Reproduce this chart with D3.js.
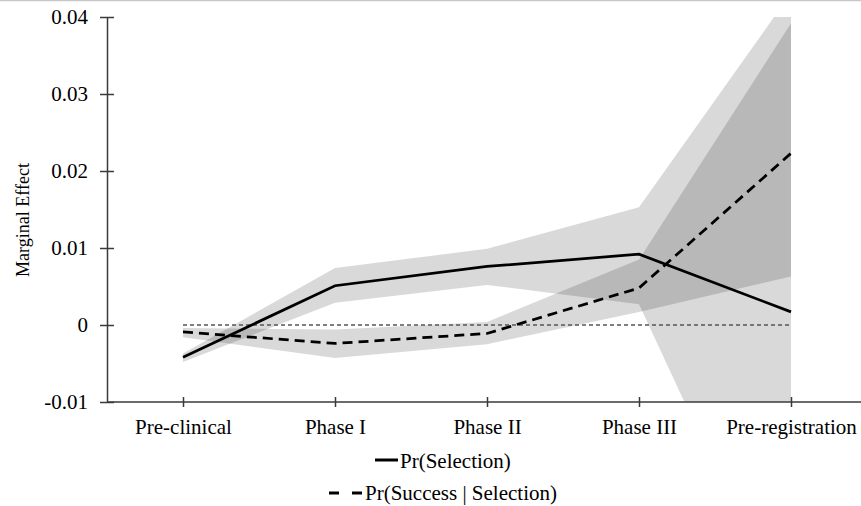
<!DOCTYPE html>
<html>
<head>
<meta charset="utf-8">
<script src="https://cdn.jsdelivr.net/npm/d3@7"></script>
<style>
	body { margin: 0; background: #fff; }
	svg { display: block; font-family: "Liberation Serif", "Times New Roman", serif; }
	.axis path, .axis line { stroke: #3a3a3a; stroke-width: 1.5; }
	.axis text { font-family: "Liberation Serif", "Times New Roman", serif; font-size: 21px; fill: #000; }
</style>
</head>
<body>
<div id="chart"></div>
<script>
// development stages on the x axis
var stages = ["Pre-clinical", "Phase I", "Phase II", "Phase III", "Pre-registration"];

// Pr(Selection) and its band
var selection = [-0.0042, 0.0051, 0.0076, 0.0092, 0.0017];
var selectionLow = [-0.0048, 0.0029, 0.0052, 0.0027, -0.0398];
var selectionHigh = [-0.0037, 0.0074, 0.0099, 0.0153, 0.0431];

// Pr(Success | Selection) and its band
var success = [-0.0009, -0.0024, -0.0011, 0.0048, 0.0223];
var successLow = [-0.0016, -0.0043, -0.0025, 0.0017, 0.0063];
var successHigh = [-0.0004, -0.0006, 0.0004, 0.0085, 0.0392];

var yTicks = [-0.01, 0, 0.01, 0.02, 0.03, 0.04];
var yTickLabels = ["-0.01", "0", "0.01", "0.02", "0.03", "0.04"];

var legendLabels = ["Pr(Selection)", "Pr(Success | Selection)"];

var width = 861;
var height = 506;
var plotLeft = 107, plotTop = 17, plotBottom = 402;

var svg = d3.select("#chart")
	.append("svg")
	.attr("width", width)
	.attr("height", height);

// thin rule at the very top of the picture
svg.append("line")
	.attr("x1", 0).attr("x2", width)
	.attr("y1", 0.5).attr("y2", 0.5)
	.attr("stroke", "#c8c8c8")
	.attr("stroke-width", 1.5);

var x = d3.scalePoint()
	.domain(stages)
	.range([plotLeft, plotLeft + 152 * 5])
	.padding(0.5);

var y = d3.scaleLinear()
	.domain([-0.01, 0.04])
	.range([plotBottom, plotTop]);

svg.append("clipPath")
	.attr("id", "plotClip")
	.append("rect")
	.attr("x", plotLeft)
	.attr("y", plotTop)
	.attr("width", width - plotLeft)
	.attr("height", plotBottom - plotTop);

var plot = svg.append("g").attr("clip-path", "url(#plotClip)");

function bandArea(low, high) {
	return d3.area()
		.x(function(d, i) { return x(stages[i]); })
		.y0(function(d, i) { return y(low[i]); })
		.y1(function(d, i) { return y(high[i]); });
}

// confidence bands, darker where they overlap
plot.append("path")
	.datum(stages)
	.attr("d", bandArea(selectionLow, selectionHigh))
	.attr("fill", "#000")
	.attr("fill-opacity", 0.15);

plot.append("path")
	.datum(stages)
	.attr("d", bandArea(successLow, successHigh))
	.attr("fill", "#000")
	.attr("fill-opacity", 0.15);

// zero reference line
plot.append("line")
	.attr("x1", x(stages[0]))
	.attr("x2", x(stages[stages.length - 1]))
	.attr("y1", y(0))
	.attr("y2", y(0))
	.attr("stroke", "#555")
	.attr("stroke-width", 1.3)
	.attr("stroke-dasharray", "4,3");

var line = d3.line()
	.x(function(d, i) { return x(stages[i]); })
	.y(function(d) { return y(d); });

plot.append("path")
	.datum(selection)
	.attr("d", line)
	.attr("fill", "none")
	.attr("stroke", "#000")
	.attr("stroke-width", 2.75);

plot.append("path")
	.datum(success)
	.attr("d", line)
	.attr("fill", "none")
	.attr("stroke", "#000")
	.attr("stroke-width", 2.75)
	.attr("stroke-dasharray", "10,6");

// y axis
var yAxis = svg.append("g")
	.attr("class", "axis")
	.attr("transform", "translate(" + plotLeft + ",0)")
	.call(d3.axisLeft(y)
		.tickValues(yTicks)
		.tickFormat(function(d, i) { return yTickLabels[i]; })
		.tickSizeOuter(0));

yAxis.selectAll(".tick line").attr("x1", -7).attr("x2", 7);
yAxis.selectAll(".tick text").attr("x", -19).attr("dy", "0.33em");

// x axis
var xAxis = svg.append("g")
	.attr("class", "axis")
	.attr("transform", "translate(0," + plotBottom + ")")
	.call(d3.axisBottom(x).tickSizeOuter(0));

xAxis.select(".domain").attr("d", "M" + plotLeft + ",0H" + width);
xAxis.selectAll(".tick line").attr("y1", -5).attr("y2", 5);
xAxis.selectAll(".tick text").attr("y", 32).attr("dy", 0);

// y axis title
svg.append("text")
	.attr("transform", "translate(29,220) rotate(-90)")
	.attr("text-anchor", "middle")
	.attr("font-size", "18px")
	.text("Marginal Effect");

// legend
var legend = svg.append("g");

legend.append("line")
	.attr("x1", 375).attr("x2", 398)
	.attr("y1", 460).attr("y2", 460)
	.attr("stroke", "#000")
	.attr("stroke-width", 3);

legend.append("text")
	.attr("x", 400)
	.attr("y", 468)
	.attr("font-size", "21px")
	.text(legendLabels[0]);

legend.append("line")
	.attr("x1", 329).attr("x2", 364)
	.attr("y1", 493).attr("y2", 493)
	.attr("stroke", "#000")
	.attr("stroke-width", 3)
	.attr("stroke-dasharray", "10,13");

legend.append("text")
	.attr("x", 365)
	.attr("y", 500)
	.attr("font-size", "21px")
	.text(legendLabels[1]);
</script>
</body>
</html>
